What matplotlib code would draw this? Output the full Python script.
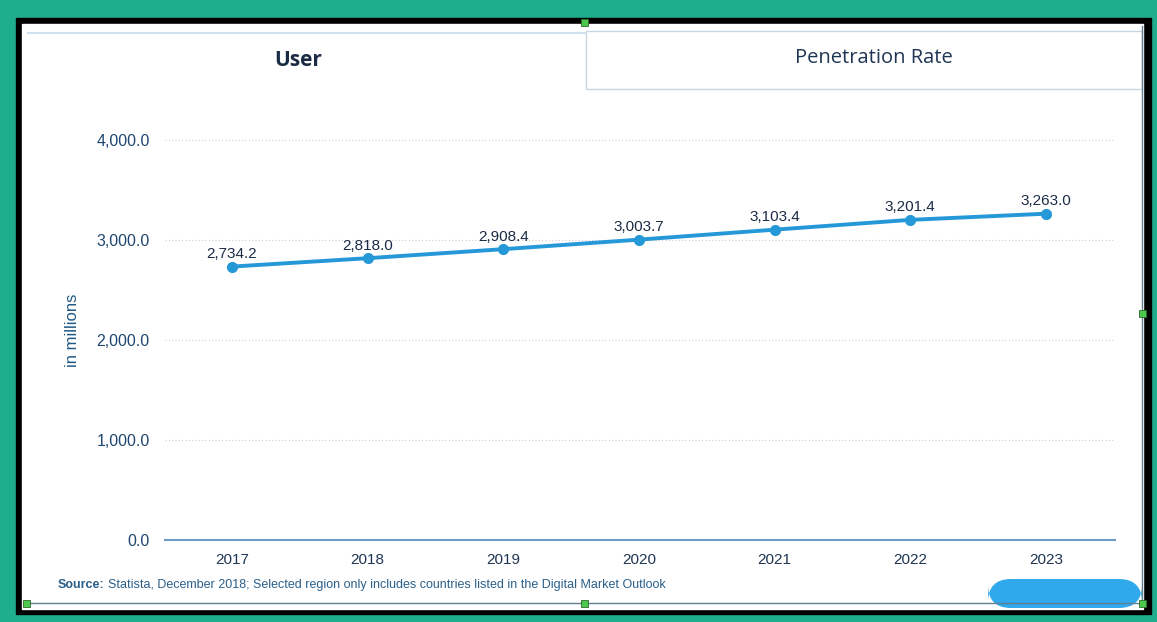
import matplotlib
matplotlib.use("Agg")
import matplotlib.pyplot as plt
from matplotlib.patches import Rectangle, FancyBboxPatch
from matplotlib.ticker import FuncFormatter

years = [2017, 2018, 2019, 2020, 2021, 2022, 2023]
users = [2734.2, 2818.0, 2908.4, 3003.7, 3103.4, 3201.4, 3263.0]
yticks = [0, 1000, 2000, 3000, 4000]
tabs = ["User", "Penetration Rate"]
source_bold = "Source:"
source_rest = "Statista, December 2018; Selected region only includes countries listed in the Digital Market Outlook"

W, H = 1157, 622
fig = plt.figure(figsize=(W / 100, H / 100), dpi=100)
fig.patch.set_facecolor("#1fae8c")

def px(x, y, w, h):
    # pixel box (top-left origin) -> figure fraction
    return (x / W, 1 - (y + h) / H, w / W, h / H)

# black frame and white page
x0, y0, w0, h0 = px(16, 18, 1135, 596)
fig.patches.append(Rectangle((x0, y0), w0, h0, transform=fig.transFigure, color="black", zorder=0))
x0, y0, w0, h0 = px(22, 24, 1121, 585)
fig.patches.append(Rectangle((x0, y0), w0, h0, transform=fig.transFigure, color="white", zorder=0))

# tab header
x0, y0, w0, h0 = px(28, 33, 558, 0)
fig.add_artist(plt.Line2D([x0, x0 + w0], [y0, y0], transform=fig.transFigure, color="#cfe0ec", lw=1.5))
x0, y0, w0, h0 = px(586, 31, 556, 58)
fig.patches.append(Rectangle((x0, y0), w0, h0, transform=fig.transFigure, facecolor="white",
                             edgecolor="#c9d6df", lw=1))
fig.text(298 / W, 1 - 61 / H, tabs[0], family="Open Sans", weight="bold", fontsize=15,
         color="#1b2b45", ha="center", va="center")
fig.text(874 / W, 1 - 58 / H, tabs[1], family="Open Sans", fontsize=14.5,
         color="#1f3553", ha="center", va="center")

# selection frame lines and handles
fig.add_artist(plt.Line2D([26 / W, 1142 / W], [1 - 603 / H, 1 - 603 / H], transform=fig.transFigure,
                          color="#5f7f92", lw=1))
fig.add_artist(plt.Line2D([1142 / W, 1142 / W], [1 - 26 / H, 1 - 603 / H], transform=fig.transFigure,
                          color="#5f7f92", lw=1))

# info button
x0, y0, w0, h0 = px(988, 579, 154, 29)
fig.patches.append(FancyBboxPatch((x0, y0), w0, h0, boxstyle="round,pad=0,rounding_size=0.02",
                                  transform=fig.transFigure, facecolor="#2fa8ec", edgecolor="none",
                                  mutation_aspect=W / H))

for hx, hy in [(584, 22), (1142, 313), (584, 603), (1142, 603), (26, 603)]:
    x0, y0, w0, h0 = px(hx - 3, hy - 3, 7, 7)
    fig.patches.append(Rectangle((x0, y0), w0, h0, transform=fig.transFigure, facecolor="#4cc94c",
                                 edgecolor="#2b6b2b", lw=0.6, zorder=5))

# chart axes
ax = fig.add_axes(px(165, 120, 950, 420))
ax.set_zorder(3)
ax.set_facecolor("none")
ax.plot(years, users, color="#2598d8", lw=2.8, marker="o", markersize=7, zorder=3)
for xv, yv in zip(years, users):
    ax.annotate(f"{yv:,.1f}", (xv, yv), xytext=(0, 4), textcoords="offset points", ha="center",
                va="bottom", fontsize=11, color="#1b2b45", family="Liberation Sans")

ax.set_xlim(2016.506, 2023.509)
ax.set_ylim(0, 4200)
ax.set_yticks(yticks)
ax.set_xticks(years)
ax.yaxis.set_major_formatter(FuncFormatter(lambda v, p: f"{v:,.1f}"))
ax.grid(axis="y", color="#d0d0d0", linestyle=(0, (1, 2)), lw=0.8)
for s in ["top", "right", "left"]:
    ax.spines[s].set_visible(False)
ax.spines["bottom"].set_color("#6e9cc8")
ax.spines["bottom"].set_linewidth(1.5)
ax.tick_params(length=0)
ax.tick_params(axis="y", pad=11, labelsize=11.5, labelcolor="#1f4670")
ax.tick_params(axis="x", pad=9, labelsize=11, labelcolor="#1f3553")
for lab in ax.get_xticklabels() + ax.get_yticklabels():
    lab.set_family("Liberation Sans")
ax.set_ylabel("in millions", fontsize=12, color="#1f5a86", family="Liberation Sans", labelpad=12)

fig.text(58 / W, 1 - 585 / H, source_bold, fontsize=9, weight="bold", color="#2a5f8a",
         family="Liberation Sans", va="center")
fig.text(108 / W, 1 - 585 / H, source_rest, fontsize=9, color="#2a5f8a",
         family="Liberation Sans", va="center")

fig.savefig("out.png", dpi=100, facecolor=fig.get_facecolor())
